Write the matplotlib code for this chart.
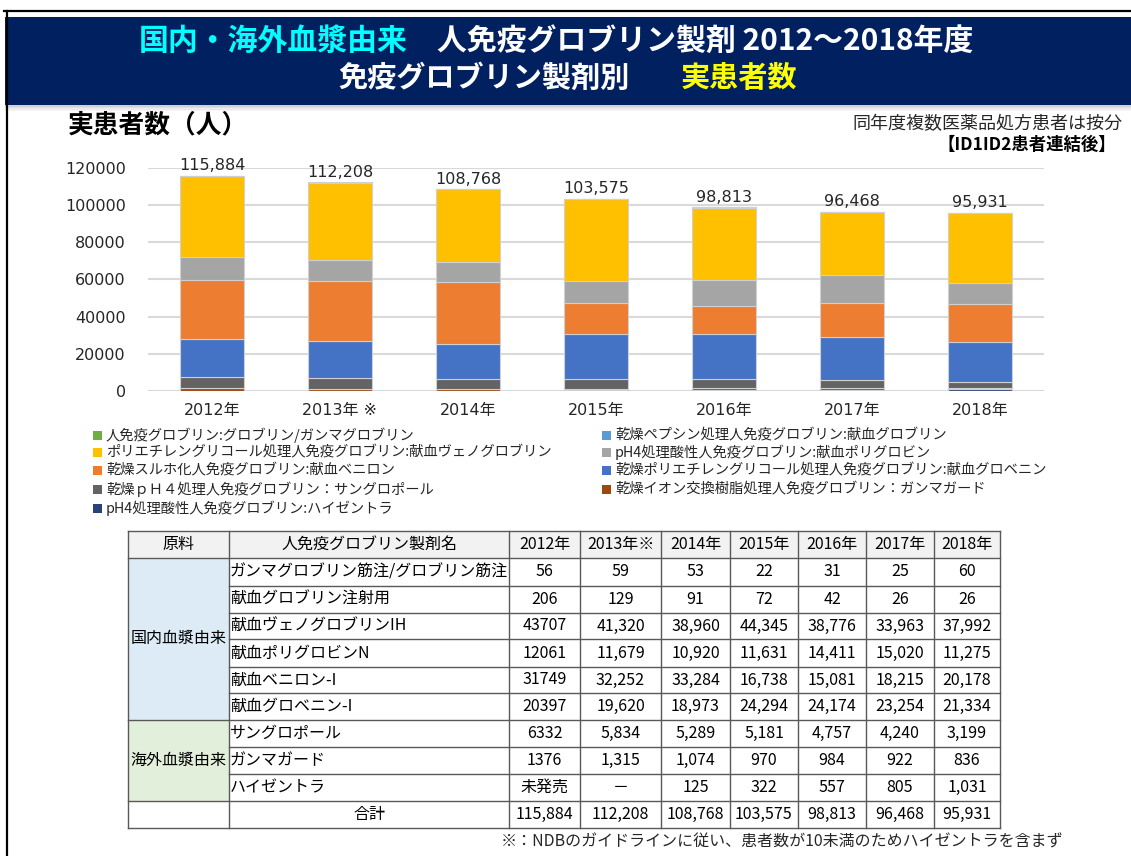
"""Immunoglobulin patients per product, 2012-2018 (stacked bars + table)."""
import matplotlib.pyplot as plt
import numpy as np
from matplotlib.patches import Rectangle

plt.rcParams['font.family'] = ['Noto Sans CJK JP', 'DejaVu Sans']
NUM_FONT = ['DejaVu Sans', 'Noto Sans CJK JP']

W, H = 1131, 856

YEARS = ["2012年", "2013年 ※", "2014年", "2015年", "2016年", "2017年", "2018年"]
TABLE_YEARS = ["2012年", "2013年※", "2014年", "2015年", "2016年", "2017年", "2018年"]

# patients per product (table rows)
GAMMA = [56, 59, 53, 22, 31, 25, 60]
GLOBULIN = [206, 129, 91, 72, 42, 26, 26]
VENO = [43707, 41320, 38960, 44345, 38776, 33963, 37992]
POLY = [12061, 11679, 10920, 11631, 14411, 15020, 11275]
VENI = [31749, 32252, 33284, 16738, 15081, 18215, 20178]
GLOVE = [20397, 19620, 18973, 24294, 24174, 23254, 21334]
SANGLO = [6332, 5834, 5289, 5181, 4757, 4240, 3199]
GAMMAGARD = [1376, 1315, 1074, 970, 984, 922, 836]
HIZEN = [0, 0, 125, 322, 557, 805, 1031]
HIZEN_NOTE = {0: "未発売", 1: "－"}
# totals as printed in the source (prorated counts, so not always the exact row sum)
TOTALS = [115884, 112208, 108768, 103575, 98813, 96468, 95931]

TABLE_NAMES = ["ガンマグロブリン筋注/グロブリン筋注", "献血グロブリン注射用", "献血ヴェノグロブリンIH",
               "献血ポリグロビンN", "献血ベニロン-I", "献血グロベニン-I",
               "サングロポール", "ガンマガード", "ハイゼントラ"]
TABLE_VALUES = [GAMMA, GLOBULIN, VENO, POLY, VENI, GLOVE, SANGLO, GAMMAGARD, HIZEN]

# legend labels, bar colors (stack order bottom -> top)
STACK = [
    (HIZEN, "pH4処理酸性人免疫グロブリン:ハイゼントラ", "#264478"),
    (GAMMAGARD, "乾燥イオン交換樹脂処理人免疫グロブリン：ガンマガード", "#9E480E"),
    (SANGLO, "乾燥ｐＨ４処理人免疫グロブリン：サングロポール", "#636363"),
    (GLOVE, "乾燥ポリエチレングリコール処理人免疫グロブリン:献血グロベニン", "#4472C4"),
    (VENI, "乾燥スルホ化人免疫グロブリン:献血ベニロン", "#ED7D31"),
    (POLY, "pH4処理酸性人免疫グロブリン:献血ポリグロビン", "#A5A5A5"),
    (VENO, "ポリエチレングリコール処理人免疫グロブリン:献血ヴェノグロブリン", "#FFC000"),
    (GLOBULIN, "乾燥ペプシン処理人免疫グロブリン:献血グロブリン", "#5B9BD5"),
    (GAMMA, "人免疫グロブリン:グロブリン/ガンマグロブリン", "#70AD47"),
]
LEGEND_LEFT = [8, 6, 4, 2, 0]
LEGEND_RIGHT = [7, 5, 3, 1]

fig = plt.figure(figsize=(W / 100, H / 100), dpi=100)
bg = fig.add_axes([0, 0, 1, 1])
bg.set_xlim(0, W)
bg.set_ylim(H, 0)
bg.axis("off")

# slide frame + banner
bg.plot([4, W], [11, 11], color="black", lw=1.6)
bg.plot([7, 7], [11, H], color="black", lw=1.6)
for k, a in enumerate([0.35, 0.25, 0.15, 0.08]):
    bg.add_patch(Rectangle((5, 105 + k * 1.5), W - 5, 1.5, color="gray", alpha=a, lw=0))
bg.add_patch(Rectangle((5, 17), W - 5, 88, color="#002060", lw=0))
bg.text(408, 41, "国内・海外血漿由来", color="#00FFFF", fontsize=21.5, fontweight="bold",
        ha="right", va="center")
bg.text(437, 41, "人免疫グロブリン製剤 2012～2018年度", color="white", fontsize=21.5,
        fontweight="bold", ha="left", va="center")
bg.text(630, 78, "免疫グロブリン製剤別", color="white", fontsize=21, fontweight="bold",
        ha="right", va="center")
bg.text(681, 78, "実患者数", color="#FFFF00", fontsize=21, fontweight="bold",
        ha="left", va="center")

bg.text(68, 125, "実患者数（人）", fontsize=18.5, fontweight="bold", ha="left", va="center")
bg.text(1122, 124, "同年度複数医薬品処方患者は按分", fontsize=13, ha="right", va="center",
        color="#262626")
bg.text(1116, 145, "【ID1ID2患者連結後】", fontsize=12.5, fontweight="bold", ha="right",
        va="center")

# stacked bars
ax = fig.add_axes([148 / W, (H - 391) / H, 896 / W, 223 / H])
ax.set_facecolor("none")
x = np.arange(len(YEARS))
bottom = np.zeros(len(YEARS))
for vals, label, color in STACK:
    ax.bar(x, vals, 0.5, bottom=bottom, color=color, edgecolor="#d0d0d0", linewidth=0.8,
           zorder=3)
    bottom += np.array(vals)
for xi, top, t in zip(x, bottom, TOTALS):
    ax.text(xi, top + 1200, f"{t:,}", ha="center", va="bottom", fontsize=11.5,
            family=NUM_FONT, color="#262626", clip_on=False)
ax.set_xlim(-0.5, len(YEARS) - 0.5)
ax.set_ylim(0, 120000)
ax.set_yticks(np.arange(0, 120001, 20000))
ax.set_yticklabels([str(v) for v in range(0, 120001, 20000)], family=NUM_FONT, fontsize=11.5,
                   color="#262626")
ax.set_xticks(x)
ax.set_xticklabels(YEARS, family=NUM_FONT, fontsize=11.5, color="#262626")
ax.tick_params(axis="y", length=0, pad=16)
ax.tick_params(axis="x", length=0, pad=9)
ax.grid(axis="y", color="#d9d9d9", lw=1.5, zorder=0)
for s in ax.spines.values():
    s.set_visible(False)

# legend
rows_y = [435, 452.5, 470.5, 489, 508]
for col_idx, x0 in [(LEGEND_LEFT, 93), (LEGEND_RIGHT, 602)]:
    for r, i in enumerate(col_idx):
        _, label, color = STACK[i]
        bg.add_patch(Rectangle((x0, rows_y[r] - 4.5), 9, 9, color=color, lw=0))
        bg.text(x0 + 13, rows_y[r], label, fontsize=10.3, ha="left", va="center",
                color="#262626")

# table
col_x = [128, 229, 509, 580, 661, 730, 798, 866, 934, 1000]
row_y = [531, 558, 586, 613, 639, 667, 693, 720, 747, 774, 801, 828]
line_c = "#595959"
tfs = 11.5
bg.add_patch(Rectangle((col_x[0], row_y[0]), col_x[-1] - col_x[0], row_y[1] - row_y[0],
                       color="#F2F2F2", lw=0))
bg.add_patch(Rectangle((col_x[0], row_y[1]), col_x[1] - col_x[0], row_y[7] - row_y[1],
                       color="#DDEBF7", lw=0))
bg.add_patch(Rectangle((col_x[0], row_y[7]), col_x[1] - col_x[0], row_y[10] - row_y[7],
                       color="#E2EFDA", lw=0))
for j, yy in enumerate(row_y):
    x_start = col_x[0] if j in (0, 1, 7, 10, 11) else col_x[1]
    bg.plot([x_start, col_x[-1]], [yy, yy], color=line_c, lw=1)
for xx in col_x:
    bg.plot([xx, xx], [row_y[0], row_y[-1]], color=line_c, lw=1)


def cx(c):
    return (col_x[c] + col_x[c + 1]) / 2


def cy(r):
    return (row_y[r] + row_y[r + 1]) / 2


bg.text(cx(0), cy(0), "原料", fontsize=tfs, ha="center", va="center")
bg.text(cx(1), cy(0), "人免疫グロブリン製剤名", fontsize=tfs, ha="center", va="center")
for c, yl in enumerate(TABLE_YEARS):
    bg.text(cx(c + 2), cy(0), yl, fontsize=tfs, ha="center", va="center")
bg.text(cx(0), (row_y[1] + row_y[7]) / 2, "国内血漿由来", fontsize=tfs, ha="center", va="center")
bg.text(cx(0), (row_y[7] + row_y[10]) / 2, "海外血漿由来", fontsize=tfs, ha="center",
        va="center")
for r, (name, vals) in enumerate(zip(TABLE_NAMES, TABLE_VALUES)):
    bg.text(col_x[1] + 1, cy(r + 1), name, fontsize=tfs, ha="left", va="center")
    for c, v in enumerate(vals):
        if vals is HIZEN and c in HIZEN_NOTE:
            s = HIZEN_NOTE[c]
        elif c == 0:
            s = str(v)
        else:
            s = f"{v:,}"
        bg.text(cx(c + 2), cy(r + 1), s, fontsize=tfs, ha="center", va="center")
bg.text(cx(1), cy(10), "合計", fontsize=tfs, ha="center", va="center")
for c, t in enumerate(TOTALS):
    bg.text(cx(c + 2), cy(10), f"{t:,}", fontsize=tfs, ha="center", va="center")

bg.text(1063, 842, "※：NDBのガイドラインに従い、患者数が10未満のためハイゼントラを含まず",
        fontsize=11.5, ha="right", va="center", color="#262626")

fig.savefig("out.png", dpi=100)
